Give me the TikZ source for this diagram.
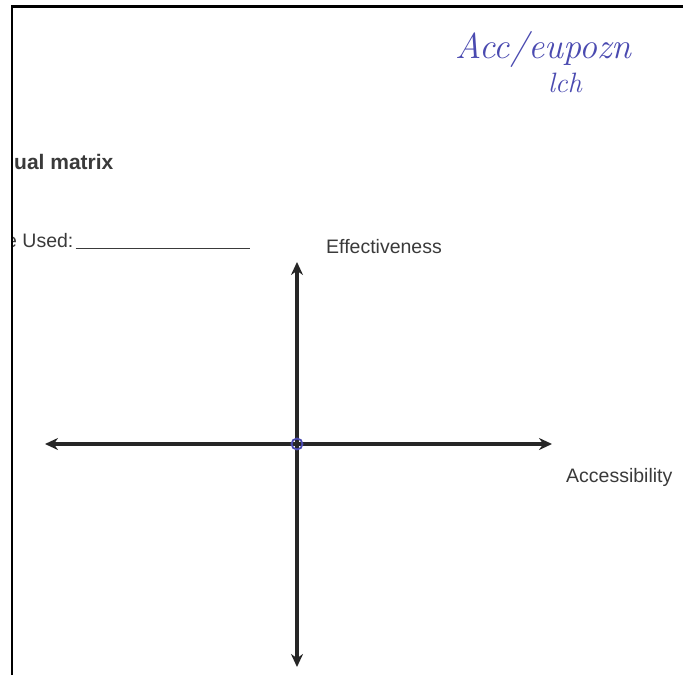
\documentclass[tikz,border=0pt]{standalone}
\usepackage{fontspec}
\setmainfont{Liberation Sans}
\newfontfamily\handfont{Latin Modern Roman}
\usetikzlibrary{arrows.meta,positioning}
\definecolor{printgray}{HTML}{3A3A3A}
\definecolor{axisgray}{HTML}{262626}
\definecolor{inkblue}{HTML}{4A4AB0}

\begin{document}
\begin{tikzpicture}[
  x=1pt, y=-1pt,
  axis/.style={line width=3.2pt, draw=axisgray, {Stealth[length=13pt,width=12pt]}-{Stealth[length=13pt,width=12pt]}},
  axis label/.style={anchor=west, inner sep=0pt, text=printgray, font=\fontsize{19.5}{22}\selectfont},
  form text/.style={anchor=base west, inner sep=0pt, text=printgray, font=\fontsize{19.5}{22}\selectfont},
  hand/.style={inner sep=0pt, text=inkblue, font=\handfont\itshape\fontsize{36}{36}\selectfont, anchor=base west},
  >=Stealth
]
  \useasboundingbox (0,0) rectangle (683,675);

  % Page edge of the scan
  \draw[line width=2.5pt, black] (12,675) -- (12,6.5) -- (683,6.5);

  % Heading and form line, cut by the page edge
  \begin{scope}
    \clip (13,0) rectangle (683,675);
    \node[form text, font=\fontsize{21}{22}\selectfont\bfseries] (title) at (14,169) {ual matrix};
    \node[form text] (used) at (6,247) {e Used:};
  \end{scope}
  \coordinate (line end) at (250,247);
  \draw[line width=1.4pt, printgray] ([xshift=2pt,yshift=-1.5pt]used.base east) -- ([yshift=-1.5pt]line end);

  % Handwritten note
  \node[hand] (note1) at (455,58) {Acc/eupozn};
  \node[hand, font=\handfont\itshape\fontsize{28}{28}\selectfont] (note2) at (548,92) {lch};

  % Axes
  \coordinate (o) at (297,444);
  \coordinate (top) at (297,262);
  \coordinate (bottom) at (297,667);
  \coordinate (left) at (45,444);
  \coordinate (right) at (552,444);
  \draw[axis] (bottom) -- (top);
  \draw[axis] (left) -- (right);
  \draw[line width=1.8pt, inkblue] (o) circle (5.5);

  % Axis labels
  \node[axis label] (eff) at (326,247) {Effectiveness};
  \node[axis label] (acc) at (566,477) {Accessibility};
\end{tikzpicture}
\end{document}
